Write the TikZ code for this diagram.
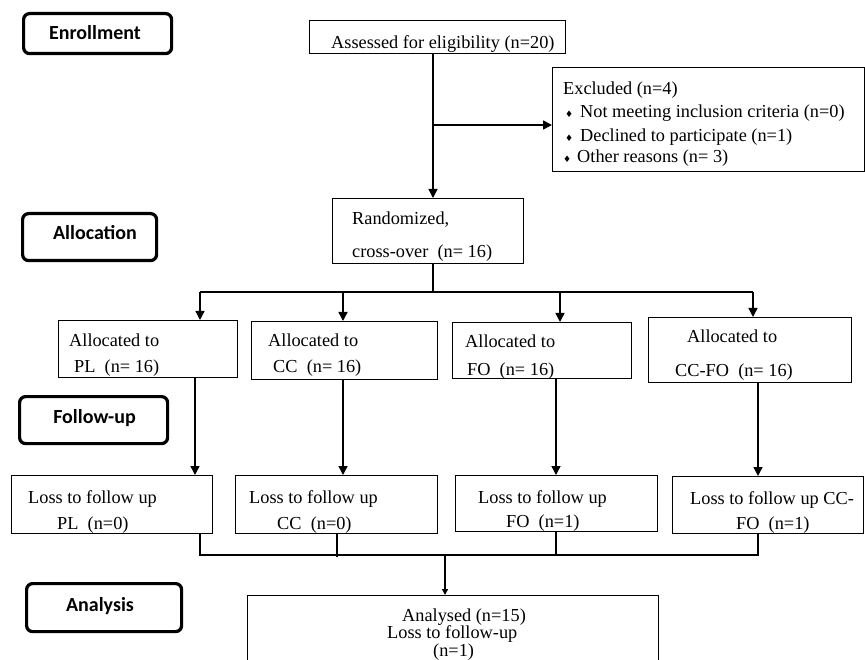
\documentclass[tikz,border=0pt]{standalone}
\usepackage{fontspec}
\setmainfont{Liberation Serif}
\newfontfamily\stagefont{Carlito}
\newfontfamily\dingfamily{DejaVu Sans}
\usetikzlibrary{arrows.meta}
\newcommand\dmd[1]{\makebox[#1][l]{{\dingfamily\fontsize{9}{9}\selectfont ♦}}}
\begin{document}
\begin{tikzpicture}[x=1pt,y=-1pt,
  box/.style={draw, line width=1.2pt, inner sep=0pt, anchor=north west},
  stagebox/.style={draw, line width=3.2pt, rounded corners=6pt, inner sep=0pt, anchor=north west},
  txt/.style={inner sep=0pt, anchor=base west, font=\rmfamily\fontsize{18.3}{22}\selectfont},
  stagetxt/.style={inner sep=0pt, anchor=base, font=\stagefont\bfseries\fontsize{20}{24}\selectfont},
  conn/.style={line width=1.4pt},
  arr/.style={conn, -{Triangle[length=9pt,width=9pt]}},
  sarr/.style={conn, -{Triangle[length=6pt,width=6pt]}},
]
\useasboundingbox (0,0) rectangle (865,660);
% stage boxes
\node[stagebox, minimum width=148pt, minimum height=40pt] (enroll) at (22,12) {};
\node[stagebox, minimum width=134pt, minimum height=47pt] (alloc) at (21,212) {};
\node[stagebox, minimum width=148pt, minimum height=47pt] (follow) at (18,395) {};
\node[stagebox, minimum width=155pt, minimum height=48pt] (analysis) at (25,582) {};
\node[stagetxt] (s1) at (95,40) {Enrollment};
\node[stagetxt] (s2) at (95,240) {Allocation};
\node[stagetxt] (s3) at (94.5,423) {Follow-up};
\node[stagetxt] (s4) at (100,611) {Analysis};
% boxes
\node[box, minimum width=256pt, minimum height=33pt] (assess) at (309,20) {};
\node[box, minimum width=312pt, minimum height=104pt] (excl) at (552,67) {};
\node[box, minimum width=191pt, minimum height=65pt] (rand) at (332,198) {};
\node[box, minimum width=179pt, minimum height=57pt] (a1) at (58,320) {};
\node[box, minimum width=186pt, minimum height=58pt] (a2) at (251,321) {};
\node[box, minimum width=179pt, minimum height=56pt] (a3) at (452,322) {};
\node[box, minimum width=203pt, minimum height=65pt] (a4) at (648,317) {};
\node[box, minimum width=201pt, minimum height=58pt] (l1) at (11,475) {};
\node[box, minimum width=202pt, minimum height=58pt] (l2) at (235,475) {};
\node[box, minimum width=202pt, minimum height=56pt] (l3) at (455,475) {};
\node[box, minimum width=191pt, minimum height=57pt] (l4) at (672,476) {};
\node[box, minimum width=411pt, minimum height=75pt] (an) at (247,595) {};
% texts
\node[txt] (t1) at (331,49) {Assessed for eligibility (n=20)};
\node[txt] (t2) at (563,95) {Excluded (n=4)};
\node[txt] (t3) at (565,118) {\dmd{15pt}Not meeting inclusion criteria (n=0)};
\node[txt] (t4) at (565,142) {\dmd{15pt}Declined to participate (n=1)};
\node[txt] (t5) at (563,163) {\dmd{14pt}Other reasons (n= 3)};
\node[txt] (t6) at (352,225) {Randomized,};
\node[txt] (t7) at (352,258) {cross-over\ \ (n= 16)};
\node[txt] (t8) at (69,347) {Allocated to};
\node[txt] (t9) at (74,372) {PL\ \ (n= 16)};
\node[txt] (t10) at (268,347) {Allocated to};
\node[txt] (t11) at (273,372) {CC\ \ (n= 16)};
\node[txt] (t12) at (465,348) {Allocated to};
\node[txt] (t13) at (467,375) {FO\ \ (n= 16)};
\node[txt] (t14) at (687,343) {Allocated to};
\node[txt] (t15) at (675,377) {CC-FO\ \ (n= 16)};
\node[txt] (t16) at (28,503) {Loss to follow up};
\node[txt] (t17) at (57,529) {PL\ \ (n=0)};
\node[txt] (t18) at (249,503) {Loss to follow up};
\node[txt] (t19) at (277,529) {CC\ \ (n=0)};
\node[txt] (t20) at (478,503) {Loss to follow up};
\node[txt] (t21) at (506,527) {FO\ \ (n=1)};
\node[txt] (t22) at (690,504) {Loss to follow up CC-};
\node[txt] (t23) at (736,529) {FO\ \ (n=1)};
\node[txt, anchor=north west, align=left, font=\rmfamily\fontsize{18.3}{17.5}\selectfont] (t24) at (387,608.5)
  {\hspace*{15pt}Analysed (n=15)\\Loss to follow-up\\\hspace*{46pt}(n=1)};
% connectors
\coordinate (c1) at (433,0);
\draw[arr] (assess.south -| c1) -- (rand.north -| c1);
\coordinate (j1) at (433,125);
\draw[arr] (j1) -- (j1 -| excl.west);
\coordinate (bar1) at (433,292);
\draw[conn] (rand.south -| c1) -- (bar1);
\coordinate (p1) at (200,292);
\coordinate (p2) at (343,292);
\coordinate (p3) at (560,292);
\coordinate (p4) at (753,292);
\draw[conn] (p1) -- (p4);
\draw[arr] (p1) -- (p1 |- a1.north);
\draw[arr] (p2) -- (p2 |- a2.north);
\draw[arr] (p3) -- (p3 |- a3.north);
\draw[arr] (p4) -- (p4 |- a4.north);
\coordinate (q1) at (195,0);
\coordinate (q2) at (343,0);
\coordinate (q3) at (556,0);
\coordinate (q4) at (758,0);
\draw[arr] (q1 |- a1.south) -- (q1 |- l1.north);
\draw[arr] (q2 |- a2.south) -- (q2 |- l2.north);
\draw[arr] (q3 |- a3.south) -- (q3 |- l3.north);
\draw[arr] (q4 |- a4.south) -- (q4 |- l4.north);
\coordinate (r1) at (200,555);
\coordinate (r2) at (337,557);
\coordinate (r3) at (556,555);
\coordinate (r4) at (758,555);
\draw[conn] (l1.south -| r1) -- (r1) -- (r4) -- (l4.south -| r4);
\draw[conn] (l2.south -| r2) -- (r2);
\draw[conn] (l3.south -| r3) -- (r3);
\coordinate (r0) at (445,555);
\draw[sarr] (r0) -- (r0 |- an.north);
\end{tikzpicture}
\end{document}
